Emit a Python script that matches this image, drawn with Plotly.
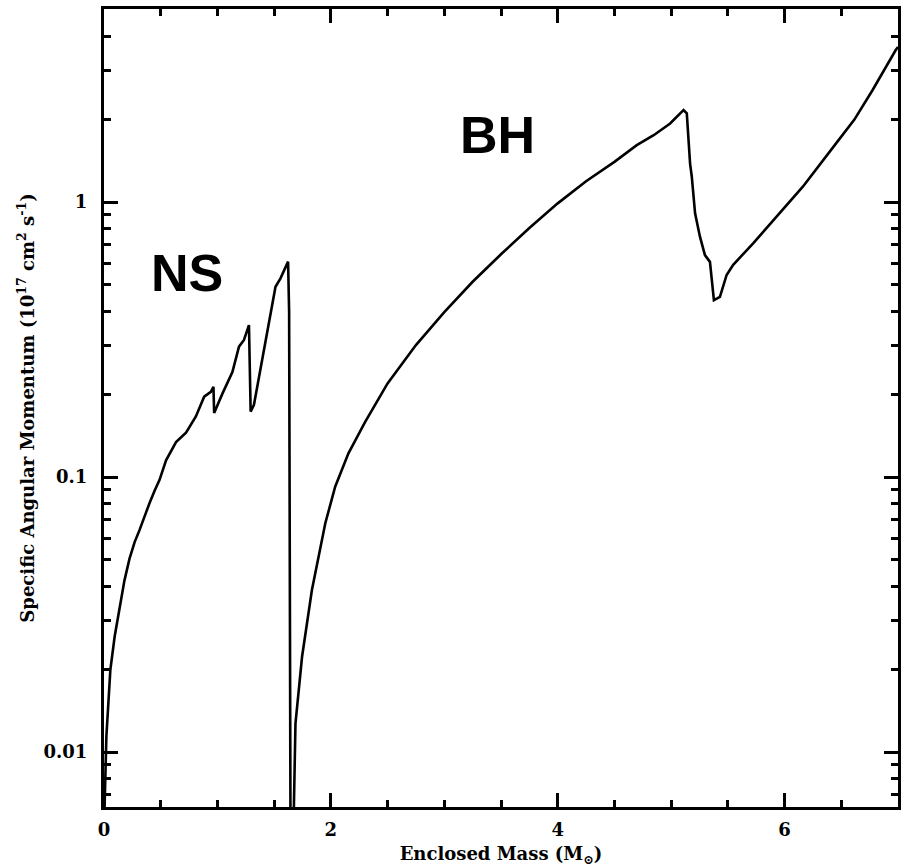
import math
import plotly.graph_objects as go

# Enclosed mass (solar masses) and specific angular momentum (1e17 cm^2/s)
ns_mass = [0.002, 0.005, 0.021, 0.056, 0.094, 0.138, 0.18, 0.225, 0.27, 0.313,
           0.35, 0.401, 0.445, 0.489, 0.547, 0.635, 0.723, 0.81, 0.883, 0.942,
           0.965, 0.971, 1.044, 1.132, 1.19, 1.234, 1.278, 1.293, 1.322, 1.395,
           1.453, 1.512, 1.556, 1.585, 1.623, 1.632, 1.645]
ns_j = [0.004, 0.0063, 0.0114, 0.0199, 0.0263, 0.0332, 0.042, 0.0505, 0.058, 0.0641,
        0.071, 0.0803, 0.089, 0.0975, 0.115, 0.134, 0.145, 0.166, 0.196, 0.204,
        0.213, 0.171, 0.201, 0.241, 0.298, 0.315, 0.357, 0.173, 0.183, 0.266,
        0.362, 0.492, 0.528, 0.558, 0.607, 0.40, 0.004]

bh_mass = [1.665, 1.673, 1.688, 1.746, 1.833, 1.951, 2.038, 2.155, 2.3, 2.5,
           2.75, 3.0, 3.25, 3.5, 3.75, 4.0, 4.25, 4.5, 4.697, 4.846,
           4.991, 5.109, 5.138, 5.167, 5.182, 5.211, 5.254, 5.298, 5.342, 5.377,
           5.43, 5.489, 5.547, 5.723, 5.927, 6.161, 6.454, 6.614, 6.775, 6.907,
           6.98, 7.0]
bh_j = [0.004, 0.0063, 0.0127, 0.0222, 0.0388, 0.0679, 0.0922, 0.122, 0.158, 0.219,
        0.302, 0.398, 0.513, 0.646, 0.804, 0.989, 1.19, 1.40, 1.61, 1.75,
        1.93, 2.16, 2.10, 1.38, 1.236, 0.91, 0.748, 0.641, 0.606, 0.440,
        0.452, 0.543, 0.591, 0.708, 0.884, 1.137, 1.634, 1.99, 2.55, 3.19,
        3.57, 3.66]

x_major = [0, 2, 4, 6]
y_major = [0.01, 0.1, 1]
y_major_text = ["0.01", "0.1", "1"]
y_minor = [m * d for d in (0.001, 0.01, 0.1, 1) for m in range(2, 10)]

labels = ["NS", "BH"]
label_mass = [0.73, 3.47]
label_j = [0.55, 1.75]

fig = go.Figure()
fig.add_trace(go.Scatter(x=ns_mass, y=ns_j, mode="lines",
                         line=dict(color="black", width=2.6), showlegend=False))
fig.add_trace(go.Scatter(x=bh_mass, y=bh_j, mode="lines",
                         line=dict(color="black", width=2.6), showlegend=False))

for t, mx, jy in zip(labels, label_mass, label_j):
    fig.add_annotation(x=mx, y=math.log10(jy), text=t, showarrow=False,
                       font=dict(family="Liberation Sans", size=52, color="black",
                                 weight="bold"))

tickfont = dict(family="DejaVu Serif", size=18, color="black", weight="bold")
titlefont = dict(family="DejaVu Serif", size=18, color="black", weight="bold")

fig.update_layout(
    width=902, height=867,
    margin=dict(l=104, r=1, t=9, b=60),
    paper_bgcolor="white", plot_bgcolor="white",
    xaxis=dict(range=[0, 7], tickvals=x_major, ticks="inside", ticklen=14, tickwidth=2.5,
               tickcolor="black", showline=True, linewidth=3, linecolor="black",
               mirror="ticks", showgrid=False, zeroline=False, tickfont=tickfont,
               ticklabelstandoff=4,
               minor=dict(dtick=0.5, ticks="inside", ticklen=7, tickwidth=2.5,
                          tickcolor="black", showgrid=False),
               title=dict(text="Enclosed Mass (M<sub>⊙</sub>)", font=titlefont, standoff=10)),
    yaxis=dict(type="log", range=[-2.2, 0.702], tickvals=y_major, ticktext=y_major_text,
               ticks="inside", ticklen=14, tickwidth=2.5, tickcolor="black",
               showline=True, linewidth=3, linecolor="black", mirror="ticks",
               showgrid=False, zeroline=False, tickfont=tickfont, ticklabelstandoff=10,
               minor=dict(tickmode="array", tickvals=y_minor, ticks="inside", ticklen=7,
                          tickwidth=2.5, tickcolor="black", showgrid=False),
               title=dict(text="Specific Angular Momentum (10<sup>17</sup> cm<sup>2</sup> s<sup>-1</sup>)",
                          font=titlefont, standoff=5)),
)

fig.write_html("out.html")
